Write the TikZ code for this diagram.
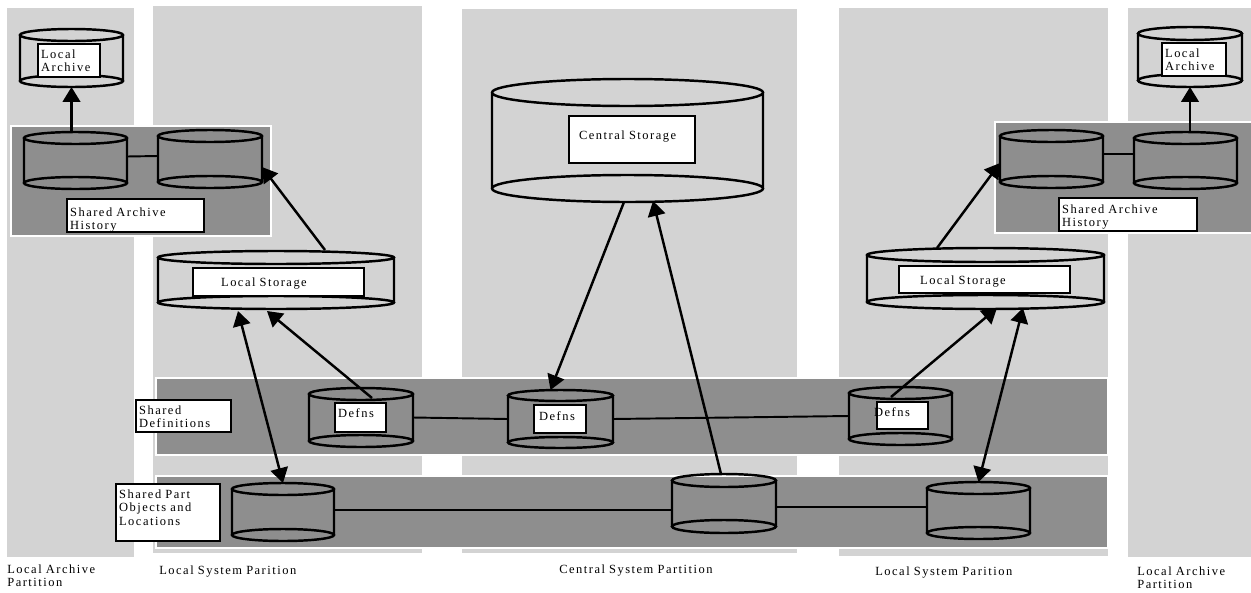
\documentclass[tikz,border=0pt]{standalone}
\usepackage{fontspec}
\setmainfont{Liberation Serif}[LetterSpace=12]
\usetikzlibrary{positioning,calc,arrows.meta}
\definecolor{partgray}{RGB}{211,211,211}
\definecolor{bandgray}{RGB}{142,142,142}
\newcommand{\drum}[6]{%
  \node[drumbox, minimum width=#4*0.02cm, minimum height=#5*0.02cm] (#1) at (#2,#3) {};
  \draw[drumline] ($(#1.north west)+(0,#6)$) -- ($(#1.south west)+(0,-#6)$)
    ($(#1.north east)+(0,#6)$) -- ($(#1.south east)+(0,-#6)$)
    ($(#1.north)+(0,#6)$) ellipse [x radius=#4/2, y radius=#6]
    ($(#1.south)+(0,-#6)$) ellipse [x radius=#4/2, y radius=#6];}

\begin{document}
\begin{tikzpicture}[x=0.02cm, y=-0.02cm,
  every node/.style={font=\fontsize{7.1}{7.7}\selectfont},
  >={Triangle[length=8.5pt,width=10pt]},
  drumbox/.style={rectangle, inner sep=0pt, outer sep=0pt},
  drumline/.style={line width=1.4pt},
  band/.style={fill=bandgray, draw=white, line width=1.2pt},
  tag/.style={draw, fill=white, line width=1.3pt, inner xsep=0.06cm, inner ysep=0pt, align=left, anchor=north west},
  caption/.style={anchor=base west, align=left, inner sep=0pt, text width=3cm},
  flow/.style={line width=1.4pt},
  link/.style={line width=1.1pt}]
\useasboundingbox (0,0) rectangle (1251,592);

\fill[partgray] (7,8) rectangle (134,557);
\fill[partgray] (153,6) rectangle (422,553);
\fill[partgray] (462,9) rectangle (797,553);
\fill[partgray] (839,8) rectangle (1108,556);
\fill[partgray] (1128,8) rectangle (1251,557);

\filldraw[band] (156,378) rectangle (1108,455);
\filldraw[band] (156,476) rectangle (1108,548);
\filldraw[band] (11,126) rectangle (271,236);
\filldraw[band] (995,122) rectangle (1256,233);

\drum{laL}{71.5}{58}{103}{58}{6}
\drum{shL1}{75.5}{160.5}{103}{57}{6}
\drum{shL2}{210}{159}{104}{58}{6}
\drum{lsL}{276}{280}{236}{58}{6.5}
\drum{dfL}{361}{417.5}{104}{59}{6}
\drum{ptL}{283}{512}{102}{58}{6}
\drum{cs}{627.5}{140.5}{271}{123}{13.5}
\drum{dfM}{560.5}{419}{105}{58}{5.5}
\drum{ptM}{724}{503.5}{104}{59}{6.5}
\drum{lsR}{985.5}{278.5}{237}{61}{7}
\drum{shR1}{1051.5}{159}{103}{58}{6}
\drum{shR2}{1185.5}{160.5}{103}{57}{6}
\drum{laR}{1190}{57}{104}{60}{6.5}
\drum{dfR}{900.5}{416}{103}{58}{6}
\drum{ptR}{978.5}{510.5}{103}{57}{6}

\draw[link] ($(shL1.east)+(0,-4)$) -- ($(shL2.west)+(0,-3)$);
\draw[link] ($(shR1.east)+(0,-5)$) -- ($(shR2.west)+(0,-6.5)$);
\draw[link] (dfL.east) -- (dfM.west);
\draw[link] (dfM.east) -- (dfR.west);
\draw[link] ($(ptL.east)+(0,-2)$) -- ($(ptM.west)+(0,6.5)$);
\draw[link] ($(ptM.east)+(0,3.5)$) -- ($(ptR.west)+(0,-3.5)$);

\draw[flow,->] (laL.south |- shL1.north) -- (laL.south);
\draw[flow,->] ($(lsL.north)+(49,-1)$) -- ($(shL2.east)+(0,8)$);
\draw[flow,->] ($(dfL.north)+(11,10)$) -- ($(lsL.south)+(-9,2)$);
\draw[flow,<->] ($(lsL.south)+(-38,2)$) -- (ptL.north);
\draw[flow,->] ($(cs.south)+(-3.5,0)$) -- ($(dfM.north)+(-10,0)$);
\draw[flow,->] ($(ptM.north)+(-3,0)$) -- ($(cs.south)+(25.5,-1)$);
\draw[flow,->] (laR.south |- shR2.north) -- (laR.south);
\draw[flow,->] ($(lsR.north)+(-48.5,0)$) -- ($(shR1.west)+(0,4)$);
\draw[flow,->] ($(dfR.north)+(-9.5,10)$) -- ($(lsR.south)+(11.5,-1)$);
\draw[flow,<->] ($(lsR.south)+(37.5,-1)$) -- (ptR.north);

\node[tag, text width=1.12cm, text height=0.28cm, text depth=0.38cm] (laLtag) at (37,43) {Local\\Archive};
\node[tag, text width=1.16cm, text height=0.28cm, text depth=0.38cm] (laRtag) at (1161,42) {Local\\Archive};
\node[tag, text width=2.62cm, text height=0.34cm, text depth=0.32cm] (sahLtag) at (66,198) {Shared Archive\\History};
\node[tag, text width=2.64cm, text height=0.30cm, text depth=0.36cm] (sahRtag) at (1058,197) {Shared Archive\\History};
\node[tag, text width=3.30cm, text height=0.36cm, text depth=0.20cm] (lsLtag) at (192,267) {\hspace*{0.5cm}Local Storage};
\node[tag, text width=3.30cm, text height=0.36cm, text depth=0.18cm] (lsRtag) at (898,265) {\hspace*{0.36cm}Local Storage};
\node[tag, text width=2.40cm, text height=0.46cm, text depth=0.48cm] (cstag) at (568,115) {\hspace*{0.14cm}Central Storage};
\node[tag, text width=0.90cm, text height=0.28cm, text depth=0.30cm] (dfLtag) at (334,402) {Defns};
\node[tag, text width=0.92cm, text height=0.30cm, text depth=0.26cm] (dfMtag) at (533,404) {\hspace*{0.04cm}Defns};
\node[tag, text width=0.90cm, text height=0.28cm, text depth=0.26cm] (dfRtag) at (876,401) {\hspace*{-0.12cm}Defns};
\node[tag, text width=1.78cm, text height=0.28cm, text depth=0.36cm] (sdeftag) at (135,399) {Shared\\Definitions};
\node[tag, text width=1.96cm, text height=0.28cm, text depth=0.86cm] (sparttag) at (115,483) {Shared Part\\Objects and\\Locations};

\node[caption] (capLA) at (7,573) {Local Archive\\Partition};
\node[caption] (capLS) at (159,574) {Local System Parition};
\node[caption, text width=4cm] (capCS) at (559,573) {Central System Partition};
\node[caption] (capRS) at (875,575) {Local System Parition};
\node[caption, text width=2cm] (capRA) at (1137,575) {Local Archive\\Partition};
\end{tikzpicture}
\end{document}
